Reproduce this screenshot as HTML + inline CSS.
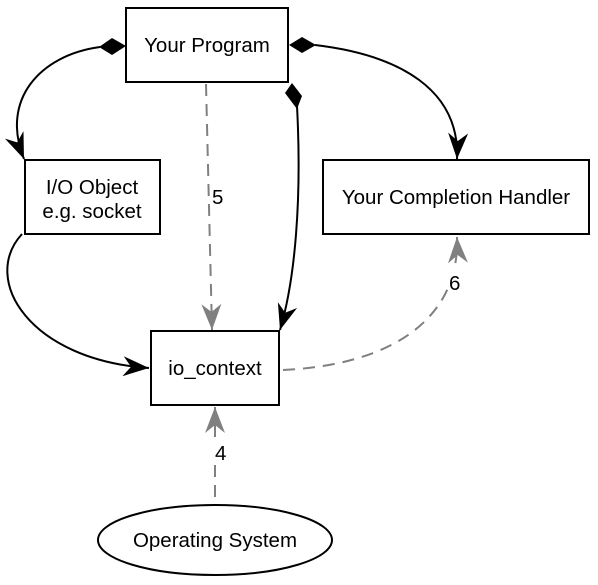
<!DOCTYPE html>
<html><head><meta charset="utf-8"><style>
html,body{margin:0;padding:0;background:#fff}
svg{display:block}
text{font-family:"Liberation Sans",Arial,sans-serif;font-size:20.5px;fill:#000}
</style></head><body>
<svg width="598" height="585" viewBox="0 0 598 585" xmlns="http://www.w3.org/2000/svg">
<defs>
<marker id="ab" markerWidth="30" markerHeight="24" refX="26" refY="10" orient="auto" markerUnits="userSpaceOnUse" overflow="visible">
<path d="M0,0 L26,10 L0,20 L8,10 Z" fill="#000"/>
</marker>
<marker id="ag" markerWidth="30" markerHeight="24" refX="26" refY="10" orient="auto" markerUnits="userSpaceOnUse" overflow="visible">
<path d="M0,0 L26,10 L0,20 L8,10 Z" fill="#808080"/>
</marker>
</defs>
<g fill="#fff" stroke="#000" stroke-width="2">
<rect x="126" y="8" width="162" height="74"/>
<rect x="25" y="160" width="135" height="74"/>
<rect x="323" y="160" width="266" height="74"/>
<rect x="151" y="331" width="128" height="74"/>
<ellipse cx="215" cy="540" rx="117" ry="35"/>
</g>
<g fill="none" stroke="#000" stroke-width="2">
<path d="M100,47 C40,55 0,100 24,159" marker-end="url(#ab)"/>
<path d="M315,45 C400,55 460,90 457,159" marker-end="url(#ab)"/>
<path d="M297,106 C302,200 295,280 280,330" marker-end="url(#ab)"/>
<path d="M22,234 C-20,280 30,360 149,368" marker-end="url(#ab)"/>
</g>
<g fill="#000">
<polygon points="99,47 112,38 126,46 112,55"/>
<polygon points="289,45 302,37 316,45 302,53"/>
<polygon points="285,93 292,83 302,96 297,109"/>
</g>
<g fill="none" stroke="#808080" stroke-width="2" stroke-dasharray="12,8">
<path d="M206,84 L212,330" marker-end="url(#ag)"/>
<path d="M283,370 C390,365 460,320 457,237" marker-end="url(#ag)"/>
<path d="M215,497 L215,407" marker-end="url(#ag)"/>
</g>
<text x="207" y="52" text-anchor="middle">Your Program</text>
<text x="92" y="194" text-anchor="middle">I/O Object</text>
<text x="92" y="218" text-anchor="middle">e.g. socket</text>
<text x="456" y="204" text-anchor="middle">Your Completion Handler</text>
<text x="215" y="375" text-anchor="middle">io_context</text>
<text x="215" y="547" text-anchor="middle">Operating System</text>
<rect x="212" y="186" width="14" height="20" fill="#fff"/>
<text x="212" y="204">5</text>
<rect x="448" y="270" width="14" height="22" fill="#fff"/>
<text x="449" y="290">6</text>
<rect x="214" y="442" width="14" height="20" fill="#fff"/>
<text x="215" y="460">4</text>
</svg>
</body></html>
